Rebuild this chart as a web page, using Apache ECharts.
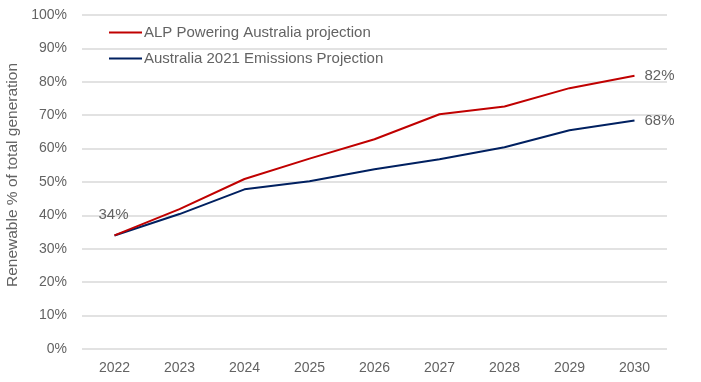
<!DOCTYPE html>
<html><head><meta charset="utf-8">
<script src="https://cdn.jsdelivr.net/npm/echarts@6/dist/echarts.min.js"></script>
<style>html,body{margin:0;padding:0;background:#fff}#c{width:701px;height:382px}</style>
</head><body><div id="c"></div>
<script>
const years = ['2022','2023','2024','2025','2026','2027','2028','2029','2030'];
const alpValues = [34, 41.9, 50.9, 57, 62.8, 70.3, 72.6, 78.1, 81.8];
const projValues = [34, 40.4, 47.8, 50.2, 53.8, 56.8, 60.4, 65.5, 68.4];
const alpLabels = ['', '', '', '', '', '', '', '', '82%'];
const projLabels = ['34%', '', '', '', '', '', '', '', '68%'];
const yTicks = [0, 10, 20, 30, 40, 50, 60, 70, 80, 90, 100];
const seriesNames = ['ALP Powering Australia projection', 'Australia 2021 Emissions Projection'];

const FONT = '"Liberation Sans", Arial, sans-serif';
const GREY = '#636363';
const FS = 14;
const chart = echarts.init(document.getElementById('c'));

function pointData(values, labels) {
  return values.map((v, i) => {
    if (!labels[i]) return v;
    const pos = i === 0 ? { position: 'top', distance: 13, offset: [-1, 0] } : { position: 'right', distance: 10 };
    return { value: v, label: Object.assign({ show: true, formatter: labels[i] }, pos) };
  });
}

chart.setOption({
  animation: false,
  grid: { left: 82, right: 34, top: 15, bottom: 33, containLabel: false, outerBoundsMode: 'none' },
  legend: {
    orient: 'vertical', left: 104, top: 20, itemGap: 11,
    itemWidth: 33, itemHeight: 18, icon: 'path://M0,8 L33,8 L33,10 L0,10 Z',
    textStyle: { color: GREY, fontSize: 15, fontFamily: FONT, padding: [0, 0, 0, -3] },
    data: seriesNames
  },
  xAxis: {
    type: 'category', data: years, boundaryGap: true,
    axisLine: { show: false }, axisTick: { show: false },
    axisLabel: { color: GREY, fontSize: FS, fontFamily: FONT, margin: 12 }
  },
  yAxis: {
    type: 'value', min: 0, max: 100, interval: 10,
    name: 'Renewable % of total generation', nameLocation: 'middle', nameGap: 56,
    nameTextStyle: { color: GREY, fontSize: 15.5, fontFamily: FONT, padding: [0, 0, 0, 14] },
    axisLabel: { color: GREY, fontSize: FS, fontFamily: FONT, margin: 15,
      formatter: v => yTicks.includes(v) ? v + '%' : '' },
    splitLine: { lineStyle: { color: '#D9D9D9', width: 1.5 } },
    axisLine: { show: false }, axisTick: { show: false }
  },
  series: [
    { name: seriesNames[0], type: 'line', data: pointData(alpValues, alpLabels),
      symbol: 'circle', symbolSize: 0, showSymbol: true,
      lineStyle: { color: '#C00000', width: 2 }, itemStyle: { color: '#C00000' },
      label: { show: false, color: GREY, fontSize: 15, fontFamily: FONT },
      z: 3 },
    { name: seriesNames[1], type: 'line', data: pointData(projValues, projLabels),
      symbol: 'circle', symbolSize: 0, showSymbol: true,
      lineStyle: { color: '#002060', width: 2 }, itemStyle: { color: '#002060' },
      label: { show: false, color: GREY, fontSize: 15, fontFamily: FONT },
      z: 2 }
  ]
});
</script></body></html>
